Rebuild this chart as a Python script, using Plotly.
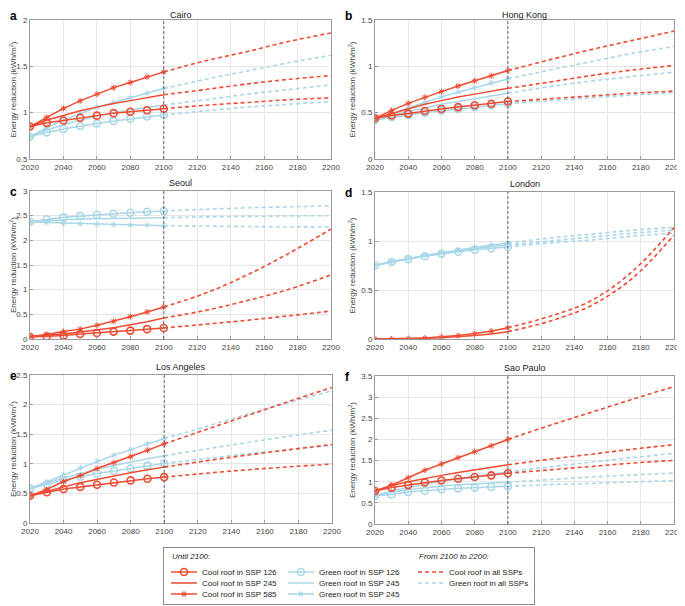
import plotly.graph_objects as go

# ---- data ----
years = [2020, 2030, 2040, 2050, 2060, 2070, 2080, 2090, 2100]
years_ext = [2100, 2125, 2150, 2175, 2200]

cities = ["Cairo", "Hong Kong", "Seoul", "London", "Los Angeles", "Sao Paulo"]
letters = ["a", "b", "c", "d", "e", "f"]
y_ranges = [[0.5, 2], [0, 1.5], [0, 3], [0, 1.5], [0, 2.5], [0, 3.5]]

# order in every list: SSP126, SSP245, SSP585
cairo_cool = [[0.85, 0.89, 0.915, 0.945, 0.968, 0.995, 1.01, 1.026, 1.043],
              [0.85, 0.92, 0.97, 1.02, 1.06, 1.10, 1.13, 1.165, 1.194],
              [0.85, 0.95, 1.046, 1.127, 1.20, 1.27, 1.326, 1.386, 1.44]]
cairo_green = [[0.74, 0.787, 0.824, 0.857, 0.884, 0.911, 0.935, 0.958, 0.975],
               [0.74, 0.81, 0.87, 0.92, 0.96, 1.00, 1.03, 1.06, 1.083],
               [0.74, 0.84, 0.92, 0.99, 1.06, 1.11, 1.16, 1.21, 1.26]]
cairo_cool_ext = [[1.043, 1.08, 1.11, 1.14, 1.16],
                  [1.194, 1.25, 1.31, 1.36, 1.40],
                  [1.44, 1.56, 1.66, 1.77, 1.86]]
cairo_green_ext = [[0.975, 1.02, 1.06, 1.09, 1.12],
                   [1.083, 1.14, 1.20, 1.25, 1.30],
                   [1.26, 1.36, 1.45, 1.54, 1.62]]

hongkong_cool = [[0.44, 0.47, 0.49, 0.518, 0.54, 0.56, 0.58, 0.597, 0.62],
                 [0.44, 0.49, 0.54, 0.59, 0.63, 0.67, 0.70, 0.73, 0.763],
                 [0.44, 0.525, 0.60, 0.666, 0.727, 0.787, 0.844, 0.898, 0.955]]
hongkong_green = [[0.42, 0.45, 0.475, 0.50, 0.52, 0.54, 0.56, 0.58, 0.597],
                  [0.42, 0.47, 0.51, 0.55, 0.59, 0.62, 0.65, 0.68, 0.71],
                  [0.42, 0.49, 0.55, 0.61, 0.67, 0.72, 0.77, 0.82, 0.864]]
hongkong_cool_ext = [[0.62, 0.65, 0.68, 0.71, 0.733],
                     [0.763, 0.83, 0.90, 0.96, 1.01],
                     [0.955, 1.07, 1.18, 1.28, 1.38]]
hongkong_green_ext = [[0.597, 0.63, 0.66, 0.69, 0.716],
                      [0.71, 0.78, 0.84, 0.89, 0.938],
                      [0.864, 0.96, 1.05, 1.14, 1.214]]

seoul_cool = [[0.04, 0.05, 0.07, 0.10, 0.12, 0.15, 0.17, 0.20, 0.223],
              [0.05, 0.07, 0.10, 0.14, 0.18, 0.23, 0.29, 0.35, 0.426],
              [0.05, 0.09, 0.15, 0.20, 0.277, 0.358, 0.453, 0.547, 0.65]]
seoul_green = [[2.378, 2.426, 2.466, 2.49, 2.52, 2.54, 2.56, 2.58, 2.595],
               [2.38, 2.40, 2.42, 2.43, 2.44, 2.445, 2.45, 2.455, 2.46],
               [2.37, 2.36, 2.345, 2.33, 2.32, 2.315, 2.31, 2.305, 2.297]]
seoul_cool_ext = [[0.223, 0.30, 0.38, 0.47, 0.568],
                  [0.426, 0.58, 0.78, 1.01, 1.30],
                  [0.65, 0.93, 1.30, 1.74, 2.23]]
seoul_green_ext = [[2.595, 2.63, 2.66, 2.68, 2.70],
                   [2.46, 2.475, 2.485, 2.495, 2.50],
                   [2.297, 2.29, 2.28, 2.275, 2.27]]

london_cool = [None,
               [0.0, 0.0, 0.003, 0.007, 0.013, 0.022, 0.035, 0.052, 0.075],
               [0.0, 0.0, 0.005, 0.01, 0.02, 0.035, 0.055, 0.08, 0.115]]
london_green = [[0.75, 0.785, 0.815, 0.845, 0.87, 0.89, 0.91, 0.925, 0.94],
                [0.75, 0.79, 0.82, 0.85, 0.875, 0.90, 0.925, 0.945, 0.96],
                [0.75, 0.79, 0.82, 0.855, 0.88, 0.91, 0.935, 0.96, 0.98]]
london_cool_ext = [None,
                   [0.075, 0.18, 0.34, 0.62, 1.06],
                   [0.115, 0.23, 0.39, 0.69, 1.137]]
london_green_ext = [[0.94, 0.98, 1.01, 1.05, 1.08],
                    [0.96, 1.00, 1.04, 1.08, 1.11],
                    [0.98, 1.03, 1.07, 1.11, 1.14]]

la_cool = [[0.46, 0.52, 0.573, 0.61, 0.646, 0.685, 0.72, 0.747, 0.775],
           [0.46, 0.54, 0.61, 0.68, 0.74, 0.79, 0.85, 0.90, 0.944],
           [0.46, 0.567, 0.70, 0.80, 0.92, 1.02, 1.12, 1.23, 1.337]]
la_green = [[0.58, 0.65, 0.725, 0.78, 0.837, 0.88, 0.92, 0.97, 1.006],
            [0.58, 0.68, 0.76, 0.84, 0.91, 0.97, 1.03, 1.085, 1.135],
            [0.584, 0.697, 0.815, 0.93, 1.045, 1.146, 1.24, 1.337, 1.427]]
la_cool_ext = [[0.775, 0.84, 0.90, 0.95, 0.995],
               [0.944, 1.05, 1.15, 1.24, 1.326],
               [1.337, 1.58, 1.82, 2.06, 2.29]]
la_green_ext = [[1.006, 1.09, 1.17, 1.24, 1.31],
                [1.135, 1.25, 1.36, 1.47, 1.567],
                [1.427, 1.63, 1.84, 2.04, 2.236]]

saopaulo_cool = [[0.78, 0.86, 0.92, 0.98, 1.03, 1.07, 1.11, 1.15, 1.20],
                 [0.78, 0.91, 1.00, 1.08, 1.15, 1.22, 1.28, 1.34, 1.40],
                 [0.78, 0.92, 1.095, 1.27, 1.42, 1.57, 1.71, 1.85, 2.00]]
saopaulo_green = [[0.67, 0.70, 0.756, 0.788, 0.82, 0.843, 0.86, 0.875, 0.89],
                  [0.67, 0.75, 0.81, 0.86, 0.90, 0.93, 0.95, 0.97, 0.99],
                  [0.67, 0.78, 0.86, 0.94, 1.01, 1.07, 1.12, 1.18, 1.23]]
saopaulo_cool_ext = [[1.20, 1.28, 1.36, 1.44, 1.505],
                     [1.40, 1.53, 1.65, 1.77, 1.875],
                     [2.00, 2.33, 2.64, 2.95, 3.25]]
saopaulo_green_ext = [[0.89, 0.93, 0.96, 0.995, 1.024],
                      [0.99, 1.05, 1.11, 1.16, 1.205],
                      [1.23, 1.35, 1.46, 1.57, 1.67]]

cool_by_city = [cairo_cool, hongkong_cool, seoul_cool, london_cool, la_cool, saopaulo_cool]
green_by_city = [cairo_green, hongkong_green, seoul_green, london_green, la_green, saopaulo_green]
cool_ext_by_city = [cairo_cool_ext, hongkong_cool_ext, seoul_cool_ext, london_cool_ext, la_cool_ext, saopaulo_cool_ext]
green_ext_by_city = [cairo_green_ext, hongkong_green_ext, seoul_green_ext, london_green_ext, la_green_ext, saopaulo_green_ext]

# ---- style ----
RED = "#EF4B32"
BLUE = "#A9D7E7"
FONT = "Liberation Sans, Arial, sans-serif"
OFF = 8  # page body margin in the browser
W, H = 685 - OFF, 606 - OFF


def px_x(v):
    return (v - OFF) / W


def px_y(v):
    return 1 - (v - OFF) / H


# panel boxes in window pixels: left, right, top, bottom
boxes = [(30, 331, 20, 159), (375, 674, 20, 159),
         (30, 331, 191, 339), (375, 674, 192, 339),
         (30, 332, 375, 523), (375, 674, 376, 524)]

symbols = ["circle-open", None, "asterisk-open"]

fig = go.Figure()


def add_series(idx, xs, ys, color, sym, dashed):
    sfx = "" if idx == 0 else str(idx + 1)
    if dashed:
        fig.add_trace(go.Scatter(x=xs, y=ys, mode="lines", xaxis="x" + sfx, yaxis="y" + sfx,
                                 line=dict(color=color, width=1.6, dash="4px,3px", shape="spline"),
                                 showlegend=False, hoverinfo="skip"))
        return
    mode = "lines" if sym is None else "lines+markers"
    marker = dict(symbol=sym or "circle", color=color,
                  size=7 if sym == "circle-open" else 5,
                  line=dict(color=color, width=1.6 if sym == "circle-open" else 1))
    fig.add_trace(go.Scatter(x=xs, y=ys, mode=mode, xaxis="x" + sfx, yaxis="y" + sfx,
                             line=dict(color=color, width=1.5), marker=marker,
                             showlegend=False, hoverinfo="skip"))


for i in range(6):
    for k in range(3):
        add_series(i, years_ext, green_ext_by_city[i][k], BLUE, None, True)
    for k in range(3):
        add_series(i, years, green_by_city[i][k], BLUE, symbols[k], False)
    for k in range(3):
        if cool_ext_by_city[i][k] is not None:
            add_series(i, years_ext, cool_ext_by_city[i][k], RED, None, True)
    for k in range(3):
        if cool_by_city[i][k] is not None:
            add_series(i, years, cool_by_city[i][k], RED, symbols[k], False)

layout = dict(width=W, height=H, margin=dict(l=0, r=0, t=0, b=0, autoexpand=False),
              paper_bgcolor="white", plot_bgcolor="white",
              font=dict(family=FONT, size=8, color="#333"),
              showlegend=False)
annotations = []
shapes = []

for i, (l, r, t, b) in enumerate(boxes):
    sfx = "" if i == 0 else str(i + 1)
    layout["xaxis" + sfx] = dict(domain=[px_x(l), px_x(r)], anchor="y" + sfx, automargin=False,
                                 range=[2020, 2200], tickvals=list(range(2020, 2201, 20)),
                                 showgrid=True, gridcolor="#e6e6e6", gridwidth=1,
                                 showline=True, mirror=True, linecolor="#9a9a9a", linewidth=1,
                                 ticks="inside", ticklen=3, tickcolor="#9a9a9a",
                                 tickfont=dict(size=8, color="#444"), zeroline=False)
    layout["yaxis" + sfx] = dict(domain=[px_y(b), px_y(t)], anchor="x" + sfx, automargin=False,
                                 range=y_ranges[i], dtick=0.5,
                                 showgrid=True, gridcolor="#e6e6e6", gridwidth=1,
                                 showline=True, mirror=True, linecolor="#9a9a9a", linewidth=1,
                                 ticks="inside", ticklen=3, tickcolor="#9a9a9a",
                                 tickfont=dict(size=8, color="#444"), zeroline=False,
                                 title=dict(text="Energy reduction (kWh/m<sup>2</sup>)",
                                            font=dict(size=8, color="#444"), standoff=4))
    shapes.append(dict(type="line", xref="x" + sfx, yref="y" + sfx + " domain",
                       x0=2100, x1=2100, y0=0, y1=1,
                       line=dict(color="#666", width=1, dash="3px,2px")))
    top_row = t < 100
    annotations.append(dict(text=cities[i], xref="paper", yref="paper",
                            x=px_x((l + r) / 2), y=1 if top_row else px_y(t - 1),
                            xanchor="center", yanchor="top" if top_row else "bottom",
                            showarrow=False, font=dict(size=9, color="#222")))
    annotations.append(dict(text="<b>" + letters[i] + "</b>", xref="paper", yref="paper",
                            x=px_x(8 if l < 100 else 343), y=px_y(16 if top_row else t + 1),
                            xanchor="left", yanchor="middle",
                            showarrow=False, font=dict(size=12, color="black")))

# ---- legend box on its own pixel-scaled axis ----
layout["xaxis7"] = dict(domain=[px_x(164), px_x(534)], anchor="y7", range=[0, 370], automargin=False,
                        showgrid=False, zeroline=False, showticklabels=False, ticks="",
                        showline=True, mirror=True, linecolor="#8a8a8a", linewidth=1, fixedrange=True)
layout["yaxis7"] = dict(domain=[px_y(604), px_y(548)], anchor="x7", range=[56, 0], automargin=False,
                        showgrid=False, zeroline=False, showticklabels=False, ticks="",
                        showline=True, mirror=True, linecolor="#8a8a8a", linewidth=1, fixedrange=True)

legend_rows = [24, 35, 46]
cool_labels = ["Cool roof in SSP 126", "Cool roof in SSP 245", "Cool roof in SSP 585"]
green_labels = ["Green roof in SSP 126", "Green roof in SSP 245", "Green roof in SSP 245"]
for k in range(3):
    for x0, color, lab in [(7, RED, cool_labels[k]), (124, BLUE, green_labels[k])]:
        ry = legend_rows[k]
        fig.add_trace(go.Scatter(x=[x0, x0 + 26], y=[ry, ry], mode="lines", xaxis="x7", yaxis="y7",
                                 line=dict(color=color, width=1.5), showlegend=False, hoverinfo="skip"))
        if symbols[k] is not None:
            fig.add_trace(go.Scatter(x=[x0 + 13], y=[ry], mode="markers", xaxis="x7", yaxis="y7",
                                     marker=dict(symbol=symbols[k], color=color,
                                                 size=7 if k == 0 else 5,
                                                 line=dict(color=color, width=1.6 if k == 0 else 1)),
                                     showlegend=False, hoverinfo="skip"))
        annotations.append(dict(text=lab, xref="x7", yref="y7", x=x0 + 29, y=ry,
                                xanchor="left", yanchor="middle", showarrow=False,
                                font=dict(size=8, color="#222")))
for k, (color, lab) in enumerate([(RED, "Cool roof in all SSPs"), (BLUE, "Green roof in all SSPs")]):
    ry = legend_rows[k]
    fig.add_trace(go.Scatter(x=[254, 280], y=[ry, ry], mode="lines", xaxis="x7", yaxis="y7",
                             line=dict(color=color, width=1.6, dash="4px,3px"),
                             showlegend=False, hoverinfo="skip"))
    annotations.append(dict(text=lab, xref="x7", yref="y7", x=283, y=ry,
                            xanchor="left", yanchor="middle", showarrow=False,
                            font=dict(size=8, color="#222")))
annotations.append(dict(text="<i>Until 2100:</i>", xref="x7", yref="y7", x=6, y=8,
                        xanchor="left", yanchor="middle", showarrow=False, font=dict(size=8, color="#222")))
annotations.append(dict(text="<i>From 2100 to 2200:</i>", xref="x7", yref="y7", x=253, y=8,
                        xanchor="left", yanchor="middle", showarrow=False, font=dict(size=8, color="#222")))

layout["annotations"] = annotations
layout["shapes"] = shapes
fig.update_layout(**layout)

fig.write_html("out.html")
